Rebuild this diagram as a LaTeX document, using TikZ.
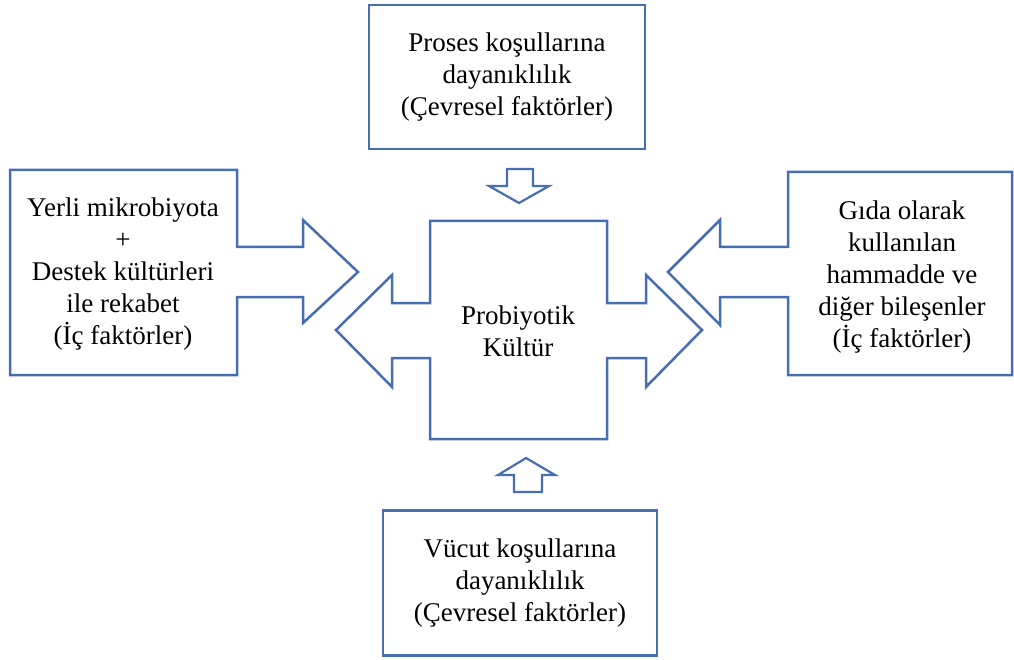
\documentclass[tikz,border=0pt]{standalone}
\usepackage{fontspec}
\setmainfont{Liberation Serif}
\usetikzlibrary{positioning}
\definecolor{shapeblue}{RGB}{72,110,178}

\begin{document}
\begin{tikzpicture}[
  x=1pt, y=-1pt,
  outline/.style={draw=shapeblue, line width=2.5pt, line join=miter, fill=white},
  box/.style={outline, rectangle, align=center, inner sep=0pt, font=\fontsize{27}{32}\selectfont},
  txt/.style={align=center, inner sep=0pt, font=\fontsize{27}{32}\selectfont}
]
\useasboundingbox (0,0) rectangle (1014,660);

\node[box, minimum width=276pt, minimum height=144pt] (proses) at (507,77) {Proses koşullarına\\dayanıklılık\\(Çevresel faktörler)};
\node[box, minimum width=274pt, minimum height=145pt] (vucut) at (520,583) {Vücut koşullarına\\dayanıklılık\\(Çevresel faktörler)};

\draw[outline] (10,170) -- (237,170) -- (237,247) -- (303,247) -- (303,220) -- (358,272)
  -- (303,323) -- (303,297) -- (237,297) -- (237,375) -- (10,375) -- cycle;
\node[txt] (yerli) at (123,274) {Yerli mikrobiyota\\+\\Destek kültürleri\\ile rekabet\\(İç faktörler)};

\draw[outline] (788,172) -- (1012,172) -- (1012,375) -- (788,375) -- (788,297) -- (720,297)
  -- (720,325) -- (668,272) -- (720,220) -- (720,247) -- (788,247) -- cycle;
\node[txt] (gida) at (902,277) {Gıda olarak\\kullanılan\\hammadde ve\\diğer bileşenler\\(İç faktörler)};

\draw[outline] (430,221) -- (607,221) -- (607,303) -- (646,303) -- (646,275) -- (702,330)
  -- (646,387) -- (646,358) -- (607,358) -- (607,439) -- (430,439) -- (430,358) -- (392,358)
  -- (392,387) -- (336,330) -- (392,275) -- (392,303) -- (430,303) -- cycle;
\node[txt] (probiyotik) at (518,331) {Probiyotik\\Kültür};

\draw[outline, line width=2.2pt] (507,169) -- (533,169) -- (533,186) -- (549,186) -- (519,203) -- (489,186) -- (507,186) -- cycle;
\draw[outline, line width=2.2pt] (526,458) -- (555,475) -- (542,475) -- (542,492) -- (514,492) -- (514,475) -- (498,475) -- cycle;
\end{tikzpicture}
\end{document}
